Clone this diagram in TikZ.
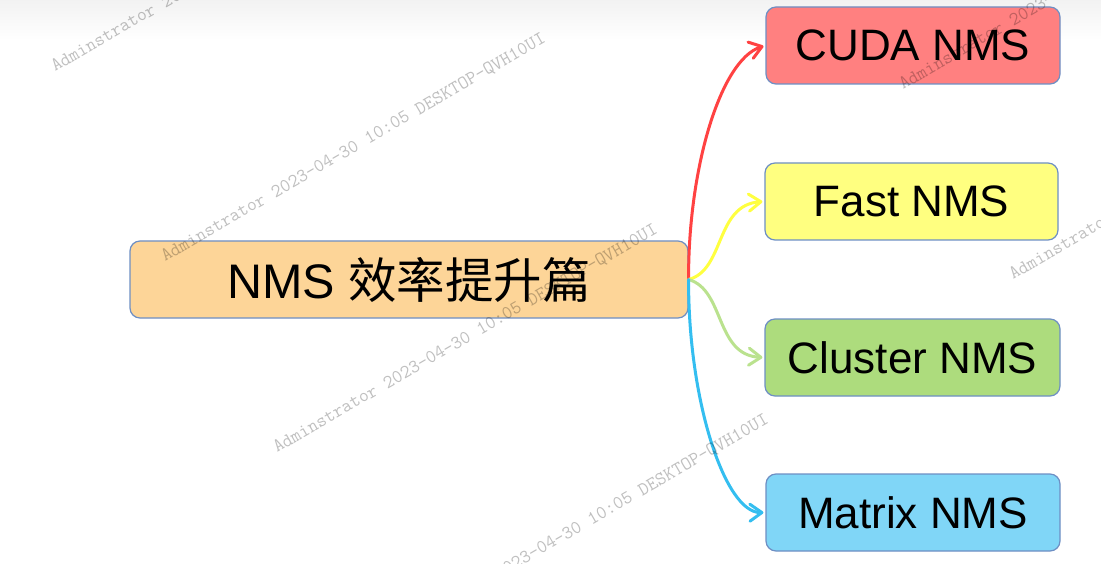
\documentclass[tikz,border=0pt]{standalone}
\usepackage{fontspec}
\setmainfont{Liberation Sans}
\newfontfamily\cjk{Noto Sans CJK SC}
\usetikzlibrary{arrows.meta}
\definecolor{boxborder}{RGB}{110,143,196}
\definecolor{rootfill}{RGB}{253,213,152}
\definecolor{cudafill}{RGB}{255,128,128}
\definecolor{fastfill}{RGB}{255,255,128}
\definecolor{clusterfill}{RGB}{173,220,125}
\definecolor{matrixfill}{RGB}{128,214,247}
\definecolor{redline}{RGB}{255,66,66}
\definecolor{yellowline}{RGB}{255,255,64}
\definecolor{greenline}{RGB}{186,226,142}
\definecolor{blueline}{RGB}{52,190,240}
\tikzset{
  box/.style={draw=boxborder, line width=1.2pt, rounded corners=10pt,
    minimum height=77pt, inner sep=0pt, text=black,
    font=\fontsize{44}{50}\selectfont},
  conn/.style={line width=3pt, line cap=round, line join=round,
    -{Straight Barb[length=12pt,width=17pt,line cap=round,line join=round]},
    shorten >=2pt},
  wm/.style={anchor=base west, rotate=30, inner sep=0pt, text=black,
    text opacity=0.25, font=\ttfamily\fontsize{19}{19}\selectfont}
}
\begin{document}
\begin{tikzpicture}[x=1pt,y=-1pt]
\useasboundingbox (0,0) rectangle (1101,564);
\clip (0,0) rectangle (1101,564);
\fill[white] (0,0) rectangle (1101,564);
\shade[top color=black!5, bottom color=white] (0,0) rectangle (1101,40);

\node[box, fill=rootfill, minimum width=558pt, font=\fontsize{48.5}{55}\selectfont]
  (root) at (409,279.5) {NMS {\cjk 效率提升篇}};
\node[box, fill=cudafill, minimum width=294pt] (cuda) at (913,45.5) {CUDA NMS};
\node[box, fill=fastfill, minimum width=293pt] (fast) at (911.5,201.5) {Fast NMS};
\node[box, fill=clusterfill, minimum width=295pt] (cluster) at (912.5,357.5) {Cluster NMS};
\node[box, fill=matrixfill, minimum width=294pt] (matrix) at (913,512.5) {Matrix NMS};

\draw[conn, redline] (root.east) .. controls (688,170) and (720,60) .. (cuda.west);
\draw[conn, yellowline] (root.east) .. controls (725,270) and (715,205) .. (fast.west);
\draw[conn, greenline] (root.east) .. controls (725,290) and (715,355) .. (cluster.west);
\draw[conn, blueline] (root.east) .. controls (688,400) and (725,513) .. (matrix.west);

\node[wm] (wA) at (55,72) {Adminstrator 2023-04-30 10:05 DESKTOP-QVH10UI};
\node[wm] (wB) at (165,262) {Adminstrator 2023-04-30 10:05 DESKTOP-QVH10UI};
\node[wm] (wC) at (277,453) {Adminstrator 2023-04-30 10:05 DESKTOP-QVH10UI};
\node[wm] (wD) at (388,643) {Adminstrator 2023-04-30 10:05 DESKTOP-QVH10UI};
\node[wm] (wE) at (903,90) {Adminstrator 2023-04-30 10:05 DESKTOP-QVH10UI};
\node[wm] (wF) at (1013,280) {Adminstrator 2023-04-30 10:05 DESKTOP-QVH10UI};
\end{tikzpicture}
\end{document}
